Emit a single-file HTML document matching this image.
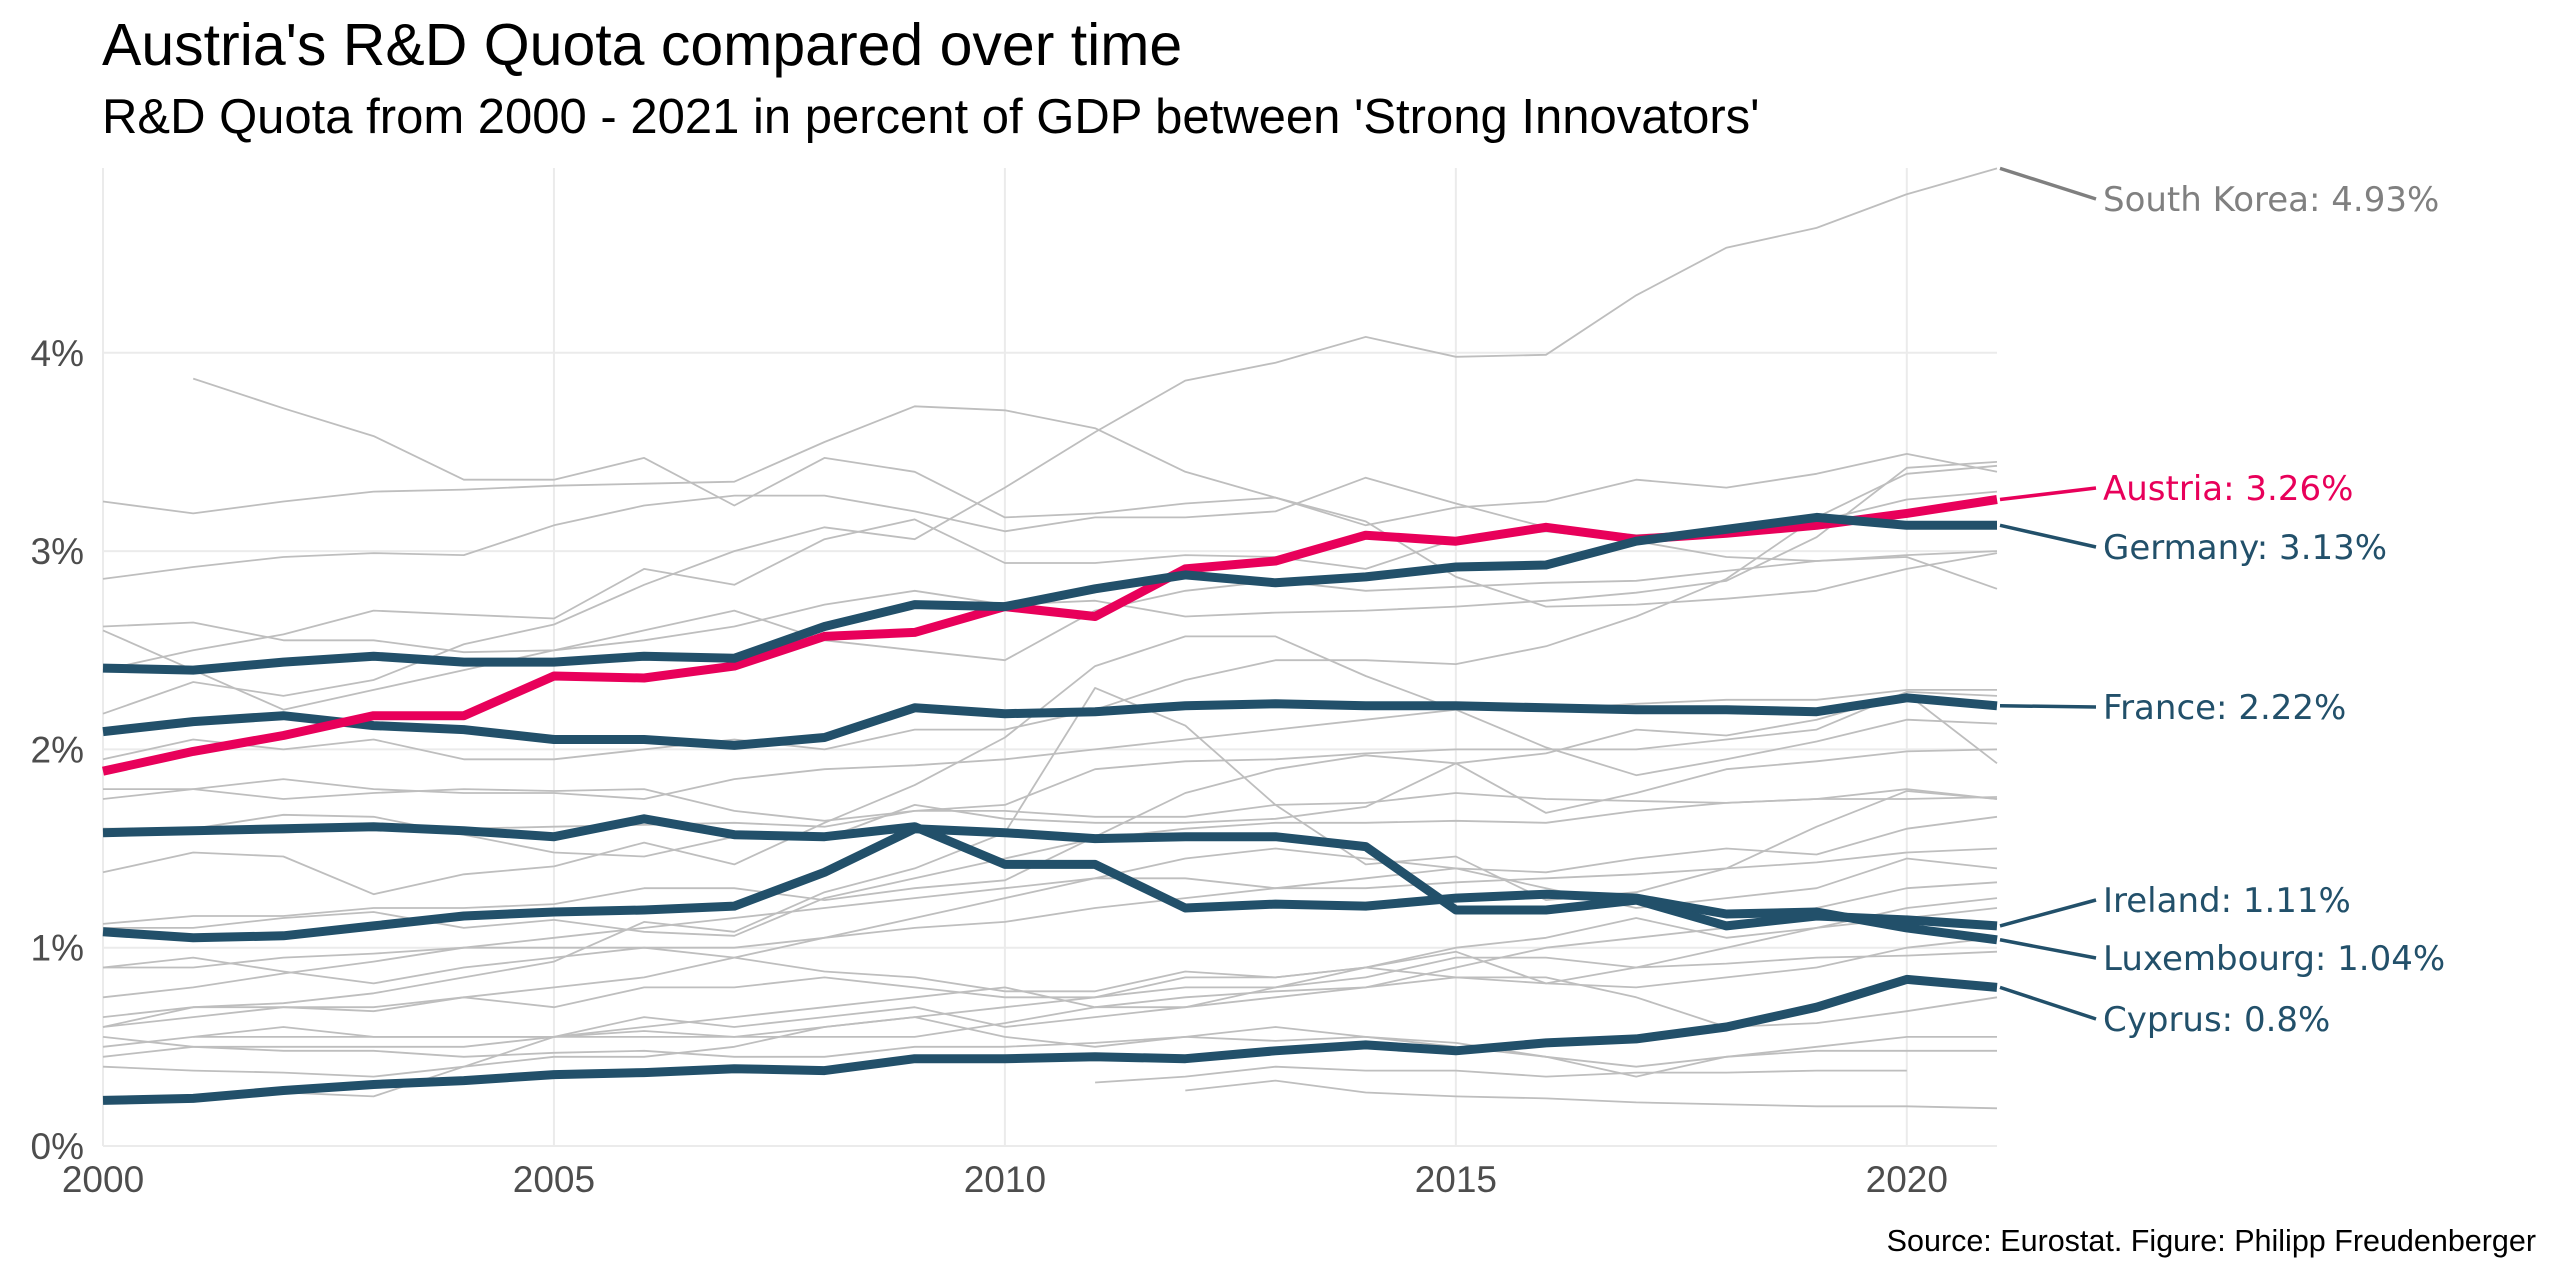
<!DOCTYPE html>
<html><head><meta charset="utf-8"><style>
html,body{margin:0;padding:0;background:#fff;width:2560px;height:1280px;overflow:hidden}
svg{display:block}
</style></head><body>
<svg id="chart" width="2560" height="1280" viewBox="0 0 2560 1280" xmlns="http://www.w3.org/2000/svg">
<text x="102" y="65" font-family="Liberation Sans, sans-serif" font-size="59" fill="#000">Austria's R&amp;D Quota compared over time</text>
<text x="102" y="133" font-family="Liberation Sans, sans-serif" font-size="49" fill="#000">R&amp;D Quota from 2000 - 2021 in percent of GDP between 'Strong Innovators'</text>
<text x="2536" y="1251" text-anchor="end" font-family="Liberation Sans, sans-serif" font-size="30.5" fill="#000">Source: Eurostat. Figure: Philipp Freudenberger</text>
<g id="grid"></g><g id="axes"></g><g id="gray"></g><g id="hl"></g><g id="labels"></g>
</svg>
<script>
const years = [2000,2001,2002,2003,2004,2005,2006,2007,2008,2009,2010,2011,2012,2013,2014,2015,2016,2017,2018,2019,2020,2021];
const yTicks = [0,1,2,3,4];
const xTicks = [2000,2005,2010,2015,2020];
const austria = [1.89,1.99,2.07,2.17,2.17,2.37,2.36,2.42,2.57,2.59,2.72,2.67,2.91,2.95,3.08,3.05,3.12,3.06,3.09,3.13,3.19,3.26];
const germany = [2.41,2.40,2.44,2.47,2.44,2.44,2.47,2.46,2.62,2.73,2.72,2.81,2.88,2.84,2.87,2.92,2.93,3.05,3.11,3.17,3.13,3.13];
const france = [2.09,2.14,2.17,2.12,2.10,2.05,2.05,2.02,2.06,2.21,2.18,2.19,2.22,2.23,2.22,2.22,2.21,2.20,2.20,2.19,2.26,2.22];
const ireland = [1.08,1.05,1.06,1.11,1.16,1.18,1.19,1.21,1.38,1.60,1.58,1.55,1.56,1.56,1.51,1.19,1.19,1.24,1.11,1.16,1.14,1.11];
const luxembourg = [1.58,1.59,1.60,1.61,1.59,1.56,1.65,1.57,1.56,1.61,1.42,1.42,1.20,1.22,1.21,1.25,1.27,1.25,1.17,1.18,1.10,1.04];
const cyprus = [0.23,0.24,0.28,0.31,0.33,0.36,0.37,0.39,0.38,0.44,0.44,0.45,0.44,0.48,0.51,0.48,0.52,0.54,0.60,0.70,0.84,0.80];
const southKorea = [2.18,2.34,2.27,2.35,2.53,2.63,2.83,3.00,3.12,3.06,3.32,3.60,3.86,3.95,4.08,3.98,3.99,4.29,4.53,4.63,4.80,4.93];
const n = null;
const others = [
[n,3.87,3.72,3.58,3.36,3.36,3.47,3.23,3.47,3.40,3.17,3.19,3.24,3.27,3.13,3.22,3.25,3.36,3.32,3.39,3.49,3.40],
[3.25,3.19,3.25,3.30,3.31,3.33,3.34,3.35,3.55,3.73,3.71,3.62,3.40,3.27,3.15,2.87,2.72,2.73,2.76,2.80,2.91,2.99],
[2.86,2.92,2.97,2.99,2.98,3.13,3.23,3.28,3.28,3.20,3.10,3.17,3.17,3.20,3.37,3.24,3.12,3.08,3.10,3.15,3.26,3.30],
[2.40,2.50,2.58,2.70,2.68,2.66,2.91,2.83,3.06,3.16,2.94,2.94,2.98,2.97,2.91,3.06,3.10,3.05,2.97,2.95,2.97,2.81],
[1.95,2.05,2.00,2.05,1.95,1.95,2.00,2.05,2.00,2.10,2.10,2.20,2.35,2.45,2.45,2.43,2.52,2.67,2.86,3.17,3.39,3.43],
[2.62,2.64,2.55,2.55,2.49,2.50,2.55,2.62,2.73,2.80,2.73,2.75,2.67,2.69,2.70,2.72,2.75,2.79,2.85,3.07,3.42,3.45],
[2.60,2.40,2.20,2.30,2.40,2.50,2.60,2.70,2.55,2.50,2.45,2.70,2.80,2.85,2.80,2.82,2.84,2.85,2.90,2.95,2.98,3.00],
[1.80,1.80,1.75,1.78,1.80,1.79,1.80,1.69,1.64,1.69,1.72,1.90,1.94,1.95,1.98,2.00,2.00,2.00,2.05,2.10,2.29,2.27],
[1.38,1.48,1.46,1.27,1.37,1.41,1.53,1.42,1.63,1.82,2.06,2.42,2.57,2.57,2.37,2.20,2.01,1.87,1.95,2.04,2.15,2.13],
[1.12,1.16,1.16,1.20,1.20,1.22,1.30,1.30,1.24,1.30,1.34,1.56,1.78,1.90,1.97,1.93,1.68,1.78,1.90,1.94,1.99,2.00],
[0.60,0.70,0.72,0.77,0.85,0.93,1.13,1.08,1.28,1.40,1.58,2.31,2.12,1.72,1.42,1.46,1.24,1.28,1.40,1.61,1.79,1.75],
[1.60,1.60,1.67,1.66,1.57,1.48,1.46,1.56,1.55,1.72,1.65,1.63,1.63,1.65,1.71,1.93,1.98,2.10,2.07,2.15,2.28,1.93],
[1.60,1.58,1.58,1.60,1.60,1.61,1.62,1.63,1.61,1.69,1.69,1.66,1.66,1.72,1.73,1.78,1.75,1.74,1.73,1.75,1.80,1.75],
[1.10,1.10,1.15,1.18,1.10,1.14,1.08,1.06,1.25,1.35,1.45,1.55,1.60,1.63,1.63,1.64,1.63,1.69,1.73,1.75,1.75,1.76],
[0.90,0.90,0.95,0.97,1.00,1.00,1.00,1.00,1.05,1.10,1.13,1.20,1.25,1.30,1.30,1.33,1.35,1.37,1.40,1.43,1.48,1.50],
[0.75,0.80,0.87,0.93,1.00,1.05,1.10,1.15,1.20,1.25,1.30,1.35,1.35,1.30,1.35,1.40,1.38,1.45,1.50,1.47,1.60,1.66],
[0.60,0.65,0.70,0.70,0.75,0.80,0.85,0.95,1.05,1.15,1.25,1.35,1.45,1.50,1.45,1.40,1.30,1.20,1.25,1.30,1.45,1.40],
[0.50,0.55,0.60,0.55,0.55,0.55,0.65,0.60,0.65,0.70,0.60,0.65,0.70,0.75,0.80,0.90,1.00,1.05,1.10,1.20,1.30,1.33],
[0.45,0.50,0.50,0.50,0.50,0.55,0.55,0.55,0.60,0.65,0.70,0.75,0.80,0.80,0.85,0.95,0.95,0.90,1.00,1.10,1.20,1.25],
[0.65,0.70,0.70,0.68,0.75,0.70,0.80,0.80,0.85,0.80,0.75,0.75,0.85,0.85,0.90,0.85,0.82,0.80,0.85,0.90,1.00,1.05],
[n,0.55,0.55,0.55,0.55,0.55,0.58,0.55,0.55,0.55,0.62,0.70,0.70,0.80,0.90,1.00,1.05,1.15,1.05,1.10,1.15,1.20],
[0.90,0.95,0.88,0.82,0.90,0.95,1.00,0.95,0.88,0.85,0.78,0.78,0.88,0.85,0.90,0.98,0.82,0.90,0.92,0.95,0.96,0.98],
[n,n,0.27,0.25,0.40,0.55,0.60,0.65,0.70,0.75,0.80,0.70,0.75,0.78,0.80,0.85,0.85,0.75,0.60,0.62,0.68,0.75],
[n,n,n,n,n,n,n,n,n,n,n,0.32,0.35,0.40,0.38,0.38,0.35,0.37,0.37,0.38,0.38,n],
[n,n,n,n,n,n,n,n,n,n,n,n,0.28,0.33,0.27,0.25,0.24,0.22,0.21,0.20,0.20,0.19],
[0.55,0.50,0.48,0.48,0.45,0.47,0.48,0.45,0.45,0.50,0.50,0.52,0.55,0.53,0.55,0.52,0.45,0.40,0.45,0.50,0.55,0.55],
[0.40,0.38,0.37,0.35,0.40,0.45,0.45,0.50,0.60,0.65,0.55,0.50,0.55,0.60,0.55,0.50,0.45,0.35,0.45,0.48,0.48,0.48],
[1.75,1.80,1.85,1.80,1.78,1.78,1.75,1.85,1.90,1.92,1.95,2.00,2.05,2.10,2.15,2.20,2.20,2.23,2.25,2.25,2.30,2.30]
];
const labelNames = ["South Korea: 4.93%","Austria: 3.26%","Germany: 3.13%","France: 2.22%","Ireland: 1.11%","Luxembourg: 1.04%","Cyprus: 0.8%"];

const NS = "http://www.w3.org/2000/svg";
const X0 = 103, X1 = 1997, Y0 = 1146, PER = 198.3;
function xs(yr){ return X0 + (yr - 2000) * (X1 - X0) / 21; }
function ys(v){ return Y0 - v * PER; }
function mk(tag, attrs, parent){
  const e = document.createElementNS(NS, tag);
  for (const k in attrs) e.setAttribute(k, attrs[k]);
  parent.appendChild(e); return e;
}
function pathD(vals){
  let d = "", pen = false;
  vals.forEach((v,i)=>{
    if (v === null) { pen = false; return; }
    d += (pen ? "L" : "M") + xs(years[i]).toFixed(1) + "," + ys(v).toFixed(1);
    pen = true;
  });
  return d;
}
const grid = document.getElementById("grid");
const axes = document.getElementById("axes");
yTicks.forEach(t=>{
  const l = mk("line",{x1:X0,x2:X1,y1:ys(t),y2:ys(t),stroke:"#ebebeb","stroke-width":2},grid);
  
  
  const tx = mk("text",{x:84,y:ys(t)+13,"text-anchor":"end","font-family":"Liberation Sans, sans-serif","font-size":37,fill:"#4d4d4d"},axes);
  tx.textContent = t + "%";
  
  
});
xTicks.forEach(t=>{
  const l = mk("line",{x1:xs(t),x2:xs(t),y1:168,y2:Y0,stroke:"#ebebeb","stroke-width":2},grid);
  
  
  const tx = mk("text",{x:xs(t),y:1192,"text-anchor":"middle","font-family":"Liberation Sans, sans-serif","font-size":37,fill:"#4d4d4d"},axes);
  tx.textContent = t;
  
  
});
const gray = document.getElementById("gray");
others.forEach(s=>{
  const p = mk("path",{d:pathD(s),fill:"none",stroke:"#bebebe","stroke-width":1.8,"stroke-linejoin":"round"},gray);
  
  
});
const kp = mk("path",{d:pathD(southKorea),fill:"none",stroke:"#bebebe","stroke-width":1.8},gray);



const hl = document.getElementById("hl");
const series = [
  {name:"cyprus-line", vals:cyprus, color:"#22506a"},
  {name:"luxembourg-line", vals:luxembourg, color:"#22506a"},
  {name:"ireland-line", vals:ireland, color:"#22506a"},
  {name:"france-line", vals:france, color:"#22506a"},
  {name:"austria-line", vals:austria, color:"#e8005a"},
  {name:"germany-line", vals:germany, color:"#22506a"}
];
series.forEach(s=>{
  const p = mk("path",{d:pathD(s.vals),fill:"none",stroke:s.color,"stroke-width":9,"stroke-linejoin":"round"},hl);
  
  
});

const labels = document.getElementById("labels");
const lab = [
  {vals:southKorea, y:199, color:"#808080", lc:"#7f7f7f"},
  {vals:austria, y:488, color:"#e8005a", lc:"#e8005a"},
  {vals:germany, y:547, color:"#22506a", lc:"#22506a"},
  {vals:france, y:707, color:"#22506a", lc:"#22506a"},
  {vals:ireland, y:900, color:"#22506a", lc:"#22506a"},
  {vals:luxembourg, y:958, color:"#22506a", lc:"#22506a"},
  {vals:cyprus, y:1019, color:"#22506a", lc:"#22506a"}
];
lab.forEach((L,i)=>{
  const last = L.vals[L.vals.length-1];
  const ln = mk("line",{x1:X1+3,y1:ys(last),x2:2096,y2:L.y,stroke:L.lc,"stroke-width":3.5},labels);
  
  
  const t = mk("text",{x:2103,y:L.y+12,"font-family":"DejaVu Sans, sans-serif","font-size":34,fill:L.color},labels);
  t.textContent = labelNames[i];
  
  
});
</script>
</body></html>
